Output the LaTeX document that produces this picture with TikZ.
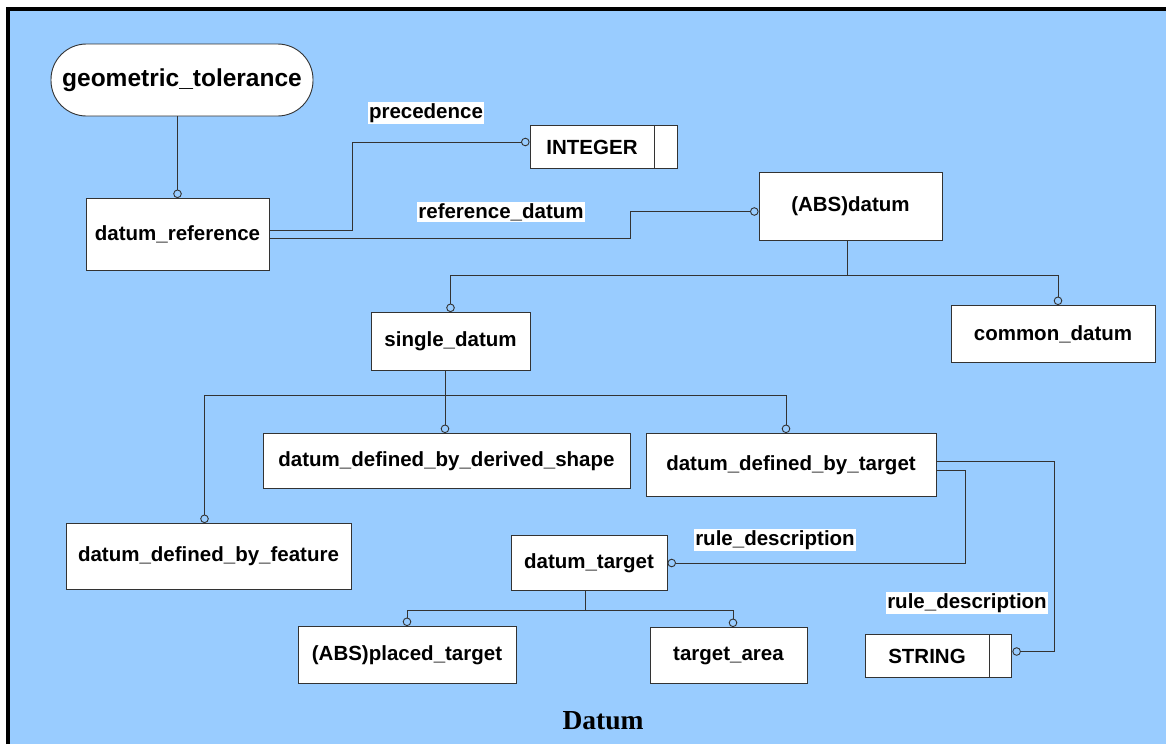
\documentclass[tikz,border=0pt]{standalone}
\usepackage{fontspec}
\setmainfont{Liberation Sans}
\newfontfamily\titlefont{Liberation Serif}
\usetikzlibrary{arrows.meta,calc}
\definecolor{bgblue}{HTML}{99CCFF}
\definecolor{linegray}{HTML}{333333}
\tikzstyle{ent} = [draw=linegray, fill=white, line width=0.9pt, inner sep=0pt, font=\fontsize{20.5}{24}\selectfont\bfseries]
\tikzstyle{link} = [draw=linegray, line width=0.9pt]
\tikzstyle{ringlink} = [link, -{Circle[open, length=8.5pt, width=8.5pt, line width=0.9pt]}]
\tikzstyle{lbl} = [fill=white, inner sep=1.5pt, font=\fontsize{20.5}{24}\selectfont\bfseries]

\begin{document}
\begin{tikzpicture}[x=1pt,y=-1pt]
    % Frame
    \useasboundingbox (0,0) rectangle (1166,744);
    \fill[white] (0,0) rectangle (1166,744);
    \fill[bgblue] (8,9) rectangle (1166,744);
    \draw[line width=4pt] (8,744) -- (8,9) -- (1166,9);
    % Entities
    \node[ent, rounded corners=35.5pt, minimum width=262, minimum height=72, font=\fontsize{24.5}{28}\selectfont\bfseries] (gt) at (182,80) {geometric\_tolerance};
    \node[ent, minimum width=183, minimum height=72] (dr) at (177.5,234.5) {datum\_reference};
    \node[ent, minimum width=124, minimum height=43] (int) at (592,147) {INTEGER};
    \node[ent, minimum width=23, minimum height=43, anchor=west] (intbar) at (int.east) {};
    \node[ent, minimum width=183, minimum height=68] (abs) at (850.5,206.5) {(ABS)datum};
    \node[ent, minimum width=159, minimum height=58] (sd) at (450.5,341.5) {single\_datum};
    \node[ent, minimum width=204, minimum height=57] (cd) at (1053,334) {common\_datum};
    \node[ent, minimum width=367, minimum height=55] (dds) at (446.5,461) {datum\_defined\_by\_derived\_shape};
    \node[ent, minimum width=290, minimum height=63] (ddt) at (791,465) {datum\_defined\_by\_target};
    \node[ent, minimum width=285, minimum height=66] (ddf) at (208.5,556.5) {datum\_defined\_by\_feature};
    \node[ent, minimum width=156, minimum height=55] (dt) at (589,563) {datum\_target};
    \node[ent, minimum width=124, minimum height=43] (str) at (927,656) {STRING};
    \node[ent, minimum width=22, minimum height=43, anchor=west] (strbar) at (str.east) {};
    \node[ent, minimum width=218, minimum height=57] (apt) at (407,655) {(ABS)placed\_target};
    \node[ent, minimum width=157, minimum height=56] (ta) at (728.5,655.5) {target\_area};
    % Attributes
    \draw[ringlink] (dr.north |- gt.south) -- (dr.north);
    \draw[ringlink] ([yshift=4.5pt]dr.east) -- ++(83,0) |- ([yshift=5pt]int.west);
    \draw[ringlink] ([yshift=-3.5pt]dr.east) -- ++(361,0) |- ([yshift=-5pt]abs.west);
    \draw[ringlink] ([yshift=-5pt]ddt.east) -- ++(29,0) |- (dt.east);
    \draw[ringlink] ([yshift=3.5pt]ddt.east) -- ++(118,0) |- ([yshift=4.5pt]strbar.east);
    % Subtype trees
    \coordinate (j1) at (847,275);
    \draw[link] (abs.south -| j1) -- (j1);
    \draw[ringlink] (j1) -| (sd.north);
    \draw[ringlink] (j1) -| ([xshift=5pt]cd.north);
    \coordinate (j2) at (445,395);
    \draw[link] (sd.south -| j2) -- (j2);
    \draw[ringlink] (j2) -| ([xshift=-4pt]ddf.north);
    \draw[ringlink] (j2) -- (dds.north -| j2);
    \draw[ringlink] (j2) -| ([xshift=-5pt]ddt.north);
    \coordinate (j3) at (585,610);
    \draw[link] (dt.south -| j3) -- (j3);
    \draw[ringlink] (j3) -| (apt.north);
    \draw[ringlink] (j3) -| ([xshift=4.5pt]ta.north);
    % Labels
    \node[lbl] (prec) at (426,113) {precedence};
    \node[lbl] (refd) at (501,212) {reference\_datum};
    \node[lbl] (rule1) at (775,540) {rule\_description};
    \node[lbl] (rule2) at (967,603) {rule\_description};
    \node[font=\titlefont\fontsize{27.5}{30}\selectfont\bfseries] (title) at (603,721) {Datum};
\end{tikzpicture}
\end{document}
